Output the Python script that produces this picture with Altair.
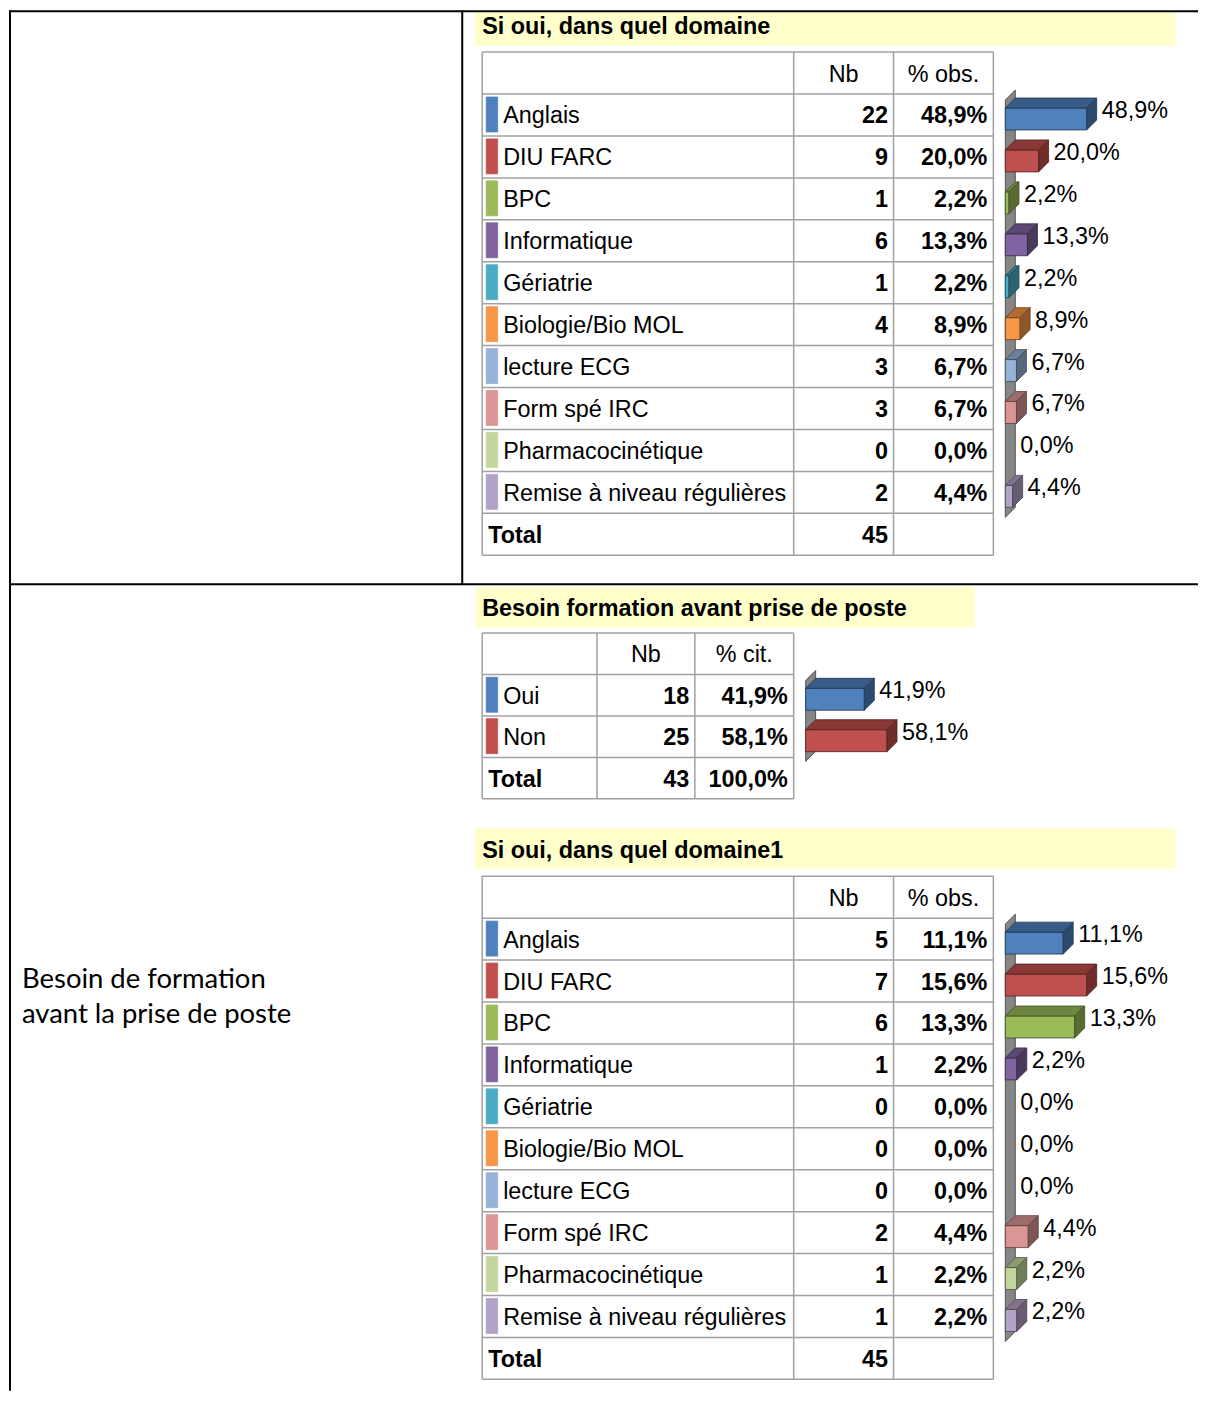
import altair as alt
import pandas as pd

# ------------------------------------------------------------------ data
domains = ["Anglais", "DIU FARC", "BPC", "Informatique", "Gériatrie",
           "Biologie/Bio MOL", "lecture ECG", "Form spé IRC",
           "Pharmacocinétique", "Remise à niveau régulières"]
domain_colors = ["#4F81BD", "#C0504D", "#9BBB59", "#8064A2", "#4BACC6",
                 "#F79646", "#95B3D7", "#D99694", "#C3D69B", "#B3A2C7"]
nb_1 = [22, 9, 1, 6, 1, 4, 3, 3, 0, 2]
pct_1 = [48.9, 20.0, 2.2, 13.3, 2.2, 8.9, 6.7, 6.7, 0.0, 4.4]
total_1 = 45

besoin_cats = ["Oui", "Non"]
besoin_colors = ["#4F81BD", "#C0504D"]
besoin_nb = [18, 25]
besoin_pct = [41.9, 58.1]
besoin_total = 43
besoin_total_pct = 100.0

nb_3 = [5, 7, 6, 1, 0, 0, 0, 2, 1, 1]
pct_3 = [11.1, 15.6, 13.3, 2.2, 0.0, 0.0, 0.0, 4.4, 2.2, 2.2]
total_3 = 45

title_1 = "Si oui, dans quel domaine"
title_2 = "Besoin formation avant prise de poste"
title_3 = "Si oui, dans quel domaine1"
header_obs = ["Nb", "% obs."]
header_cit = ["Nb", "% cit."]
left_label = ["Besoin de formation", "avant la prise de poste"]

# ------------------------------------------------------------------ layout
W, H = 1191, 1383
XOFF, YOFF = 8, 10
FS = 23.4
SANS = "Liberation Sans"
GRID = "#A0A0A0"
BAND = "#FFFFCC"


def fr_pct(v):
    return f"{v:.1f}".replace(".", ",") + "%"


def shade(hex_color, f):
    h = hex_color.lstrip("#")
    r, g, b = (int(h[i:i + 2], 16) for i in (0, 2, 4))
    return "#%02X%02X%02X" % (int(r * f), int(g * f), int(b * f))


bands, swatches, fronts, grid_rules, black_rules = [], [], [], [], []
texts = []
h_areas, v_areas, walls = [], [], []


def txt(style, x, y, t):
    texts.append(dict(style=style, x=x, y=y, text=t))


def add_table(top, row_h, cols, header, labels, colors, nbs, pcts, total_nb, total_pct):
    n_rows = len(labels) + 2
    bottom = top + n_rows * row_h
    for i in range(n_rows + 1):
        y = top + i * row_h
        grid_rules.append(dict(x=cols[0], x2=cols[-1], y=y, y2=y))
    for c in cols:
        grid_rules.append(dict(x=c, x2=c, y=top, y2=bottom))
    hc = top + row_h / 2
    for j, h in enumerate(header):
        txt("head", (cols[j + 1] + cols[j + 2]) / 2, hc + 8.5, h)
    centers = []
    for i, lab in enumerate(labels):
        rc = top + (i + 1.5) * row_h
        centers.append(rc)
        swatches.append(dict(x=cols[0] + 4, x2=cols[0] + 15.5, y=rc - 18, y2=rc + 17,
                             fill=colors[i], stroke=colors[i]))
        txt("label", cols[0] + 21, rc + 8.5, lab)
        txt("num", cols[2] - 5.5, rc + 8.5, str(nbs[i]))
        txt("num", cols[3] - 6, rc + 8.5, fr_pct(pcts[i]))
    rc = top + (n_rows - 0.5) * row_h
    txt("total", cols[0] + 6, rc + 8.5, "Total")
    txt("num", cols[2] - 5.5, rc + 8.5, str(total_nb))
    if total_pct is not None:
        txt("num", cols[3] - 6, rc + 8.5, fr_pct(total_pct))
    return centers, top + row_h, bottom


def add_bars(key, centers, pcts, colors, x0, first_top, last_bottom, max_len=81.5, d=10):
    walls.append(dict(id=key, x=x0, y=first_top + 6, y2=last_bottom + 4))
    walls.append(dict(id=key, x=x0 + d, y=first_top - 4, y2=last_bottom - 6))
    vmax = max(pcts)
    for i, (rc, p, col) in enumerate(zip(centers, pcts, colors)):
        L = p / vmax * max_len
        if L > 0:
            y1, y2 = rc - 7, rc + 15
            edge = shade(col, 0.42)
            fronts.append(dict(x=x0, x2=x0 + L, y=y1, y2=y2, fill=col, stroke=edge))
            tid = f"{key}_top{i}"
            h_areas.append(dict(id=tid, y=y1, x=x0, x2=x0 + L, fill=shade(col, 0.72), stroke=edge))
            h_areas.append(dict(id=tid, y=y1 - d, x=x0 + d, x2=x0 + L + d, fill=shade(col, 0.72), stroke=edge))
            sid = f"{key}_side{i}"
            v_areas.append(dict(id=sid, x=x0 + L, y=y1, y2=y2, fill=shade(col, 0.58), stroke=edge))
            v_areas.append(dict(id=sid, x=x0 + L + d, y=y1 - d, y2=y2 - d, fill=shade(col, 0.58), stroke=edge))
        txt("bar", x0 + L + d + 5, rc + 3, fr_pct(p))


# outer frame
black_rules += [
    dict(x=XOFF, x2=XOFF + W, y=YOFF + 1, y2=YOFF + 1),
    dict(x=XOFF + 1, x2=XOFF + 1, y=YOFF, y2=YOFF + H),
    dict(x=462, x2=462, y=YOFF, y2=585),
    dict(x=XOFF, x2=XOFF + W, y=585, y2=585),
]

# section 1
bands.append(dict(x=475, x2=1176, y=12, y2=45, fill=BAND, stroke=BAND))
txt("title", 482, 33.5, title_1)
c1, t1, b1 = add_table(52, 42, [482, 794, 894, 994], header_obs, domains, domain_colors,
                       nb_1, pct_1, total_1, None)
add_bars("c1", c1, pct_1, domain_colors, 1006, t1, b1 - 42)

# section 2
bands.append(dict(x=476, x2=975, y=588, y2=628, fill=BAND, stroke=BAND))
txt("title", 482, 616.5, title_2)
c2, t2, b2 = add_table(634, 41.5, [482, 597, 695, 794], header_cit, besoin_cats, besoin_colors,
                       besoin_nb, besoin_pct, besoin_total, besoin_total_pct)
add_bars("c2", c2, besoin_pct, besoin_colors, 806, t2, b2 - 41.5)

# section 3
bands.append(dict(x=475, x2=1176, y=830, y2=870, fill=BAND, stroke=BAND))
txt("title", 482, 859.5, title_3)
c3, t3, b3 = add_table(877.5, 42, [482, 794, 894, 994], header_obs, domains, domain_colors,
                       nb_3, pct_3, total_3, None)
add_bars("c3", c3, pct_3, domain_colors, 1006, t3, b3 - 42)

# left column label
txt("left", 21, 989, left_label[0])
txt("left", 21, 1025, left_label[1])

# ------------------------------------------------------------------ chart
XS = alt.Scale(domain=[XOFF, XOFF + W], range=[0, W], nice=False, zero=False)
YS = alt.Scale(domain=[YOFF, YOFF + H], range=[0, H], nice=False, zero=False)


def X(f="x"):
    return alt.X(f + ":Q", scale=XS, axis=None, stack=None)


def Y(f="y"):
    return alt.Y(f + ":Q", scale=YS, axis=None, stack=None)


def rect_layer(rows):
    return alt.Chart(pd.DataFrame(rows)).mark_rect(strokeWidth=0.8).encode(
        x=X(), x2="x2:Q", y=Y(), y2="y2:Q",
        color=alt.Color("fill:N", scale=None),
        stroke=alt.Stroke("stroke:N", scale=None),
    )


band_layer = rect_layer(bands)
swatch_layer = rect_layer(swatches)
front_layer = rect_layer(fronts)
wall_layer = alt.Chart(pd.DataFrame(walls)).mark_area(
    orient="vertical", strokeWidth=0.8, color="#868686", stroke="#3A3A3A").encode(
    x=X(), y=Y(), y2="y2:Q", detail="id:N")
side_layer = alt.Chart(pd.DataFrame(v_areas)).mark_area(orient="vertical", strokeWidth=0.8).encode(
    x=X(), y=Y(), y2="y2:Q", detail="id:N",
    color=alt.Color("fill:N", scale=None),
    stroke=alt.Stroke("stroke:N", scale=None),
)
top_layer = alt.Chart(pd.DataFrame(h_areas)).mark_area(orient="horizontal", strokeWidth=0.8).encode(
    y=Y(), x=X(), x2="x2:Q", detail="id:N",
    color=alt.Color("fill:N", scale=None),
    stroke=alt.Stroke("stroke:N", scale=None),
)
grid_layer = alt.Chart(pd.DataFrame(grid_rules)).mark_rule(color=GRID, strokeWidth=1.5).encode(
    x=X(), x2="x2:Q", y=Y(), y2="y2:Q")
black_layer = alt.Chart(pd.DataFrame(black_rules)).mark_rule(color="#000000", strokeWidth=2).encode(
    x=X(), x2="x2:Q", y=Y(), y2="y2:Q")

tdf = pd.DataFrame(texts)
styles = {
    "title": dict(font=SANS, fontSize=FS, fontWeight="bold", align="left"),
    "head": dict(font=SANS, fontSize=FS, fontWeight="normal", align="center"),
    "label": dict(font=SANS, fontSize=FS, fontWeight="normal", align="left"),
    "num": dict(font=SANS, fontSize=FS, fontWeight="bold", align="right"),
    "total": dict(font=SANS, fontSize=FS, fontWeight="bold", align="left"),
    "bar": dict(font=SANS, fontSize=FS, fontWeight="normal", align="left"),
    "left": dict(font="Lato", fontSize=27.5, fontWeight="normal", align="left"),
}
text_layers = []
for s, props in styles.items():
    text_layers.append(
        alt.Chart(tdf[tdf["style"] == s]).mark_text(baseline="alphabetic", color="#000000", **props).encode(
            x=X(), y=Y(), text="text:N")
    )

chart = alt.layer(
    band_layer, grid_layer, black_layer, swatch_layer,
    wall_layer, front_layer, top_layer, side_layer,
    *text_layers,
).properties(
    width=W, height=H, padding=0, background="white",
).configure_view(stroke=None)

chart.save("out.html", embed_options={"renderer": "svg", "actions": False})
